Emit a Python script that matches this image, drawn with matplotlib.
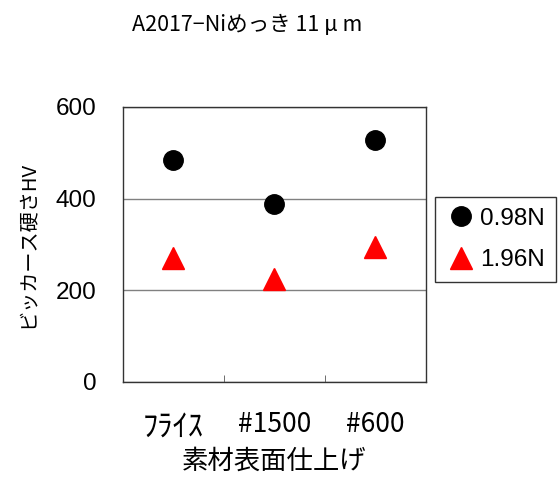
import matplotlib

matplotlib.use("Agg")
import matplotlib.pyplot as plt  # noqa: E402

JP = ["Noto Sans CJK JP", "DejaVu Sans"]

categories = ["ﾌﾗｲｽ", "#1500", "#600"]
hv_098 = [484, 388, 528]
hv_196 = [270, 225, 295]
yticks = [0, 200, 400, 600]

fig = plt.figure(figsize=(5.58, 4.8), dpi=100)
ax = fig.add_axes([0.2204, 0.2042, 0.543, 0.573])

x = range(1, len(categories) + 1)
ax.plot(x, hv_098, "o", color="black", markersize=14, label="0.98N", zorder=3)
ax.plot(x, hv_196, "^", color="red", markersize=16, label="1.96N", zorder=3)

ax.set_xlim(0.5, len(categories) + 0.5)
ax.set_ylim(0, 600)
ax.set_yticks(yticks)
ax.set_yticklabels([str(v) for v in yticks], fontsize=17.5, family="Liberation Sans")
ax.tick_params(axis="y", length=0, pad=19)
ax.set_xticks(list(x))
ax.set_xticklabels(categories, fontsize=19, family=JP)
ax.get_xticklabels()[0].set_fontsize(22)
ax.tick_params(axis="x", which="major", length=0, pad=21)
ax.set_xticks([1.5, 2.5], minor=True)
ax.tick_params(axis="x", which="minor", direction="in", length=5, color="#555555")

ax.yaxis.grid(True, color="#808080", linewidth=1)
ax.set_axisbelow(True)
for s in ax.spines.values():
    s.set_color("#333333")
    s.set_linewidth(1)

ax.set_ylabel("ビッカース硬さHV", fontsize=14.5, family=JP, labelpad=13)
ax.set_xlabel("素材表面仕上げ", fontsize=19, family=JP, labelpad=4)
fig.text(0.443, 0.948, "A2017−Niめっき 11 μ m", fontsize=15.5, family=JP,
         ha="center", va="center")

leg = ax.legend(loc="upper left", bbox_to_anchor=(0.7796, 0.5896),
                bbox_transform=fig.transFigure, frameon=True, borderaxespad=0,
                fancybox=False, edgecolor="black", handletextpad=0.2,
                handlelength=1.2, borderpad=0.45, labelspacing=0.8,
                prop={"family": "Liberation Sans", "size": 17.5})
leg.get_frame().set_linewidth(1)

fig.savefig("out.png", dpi=100)
